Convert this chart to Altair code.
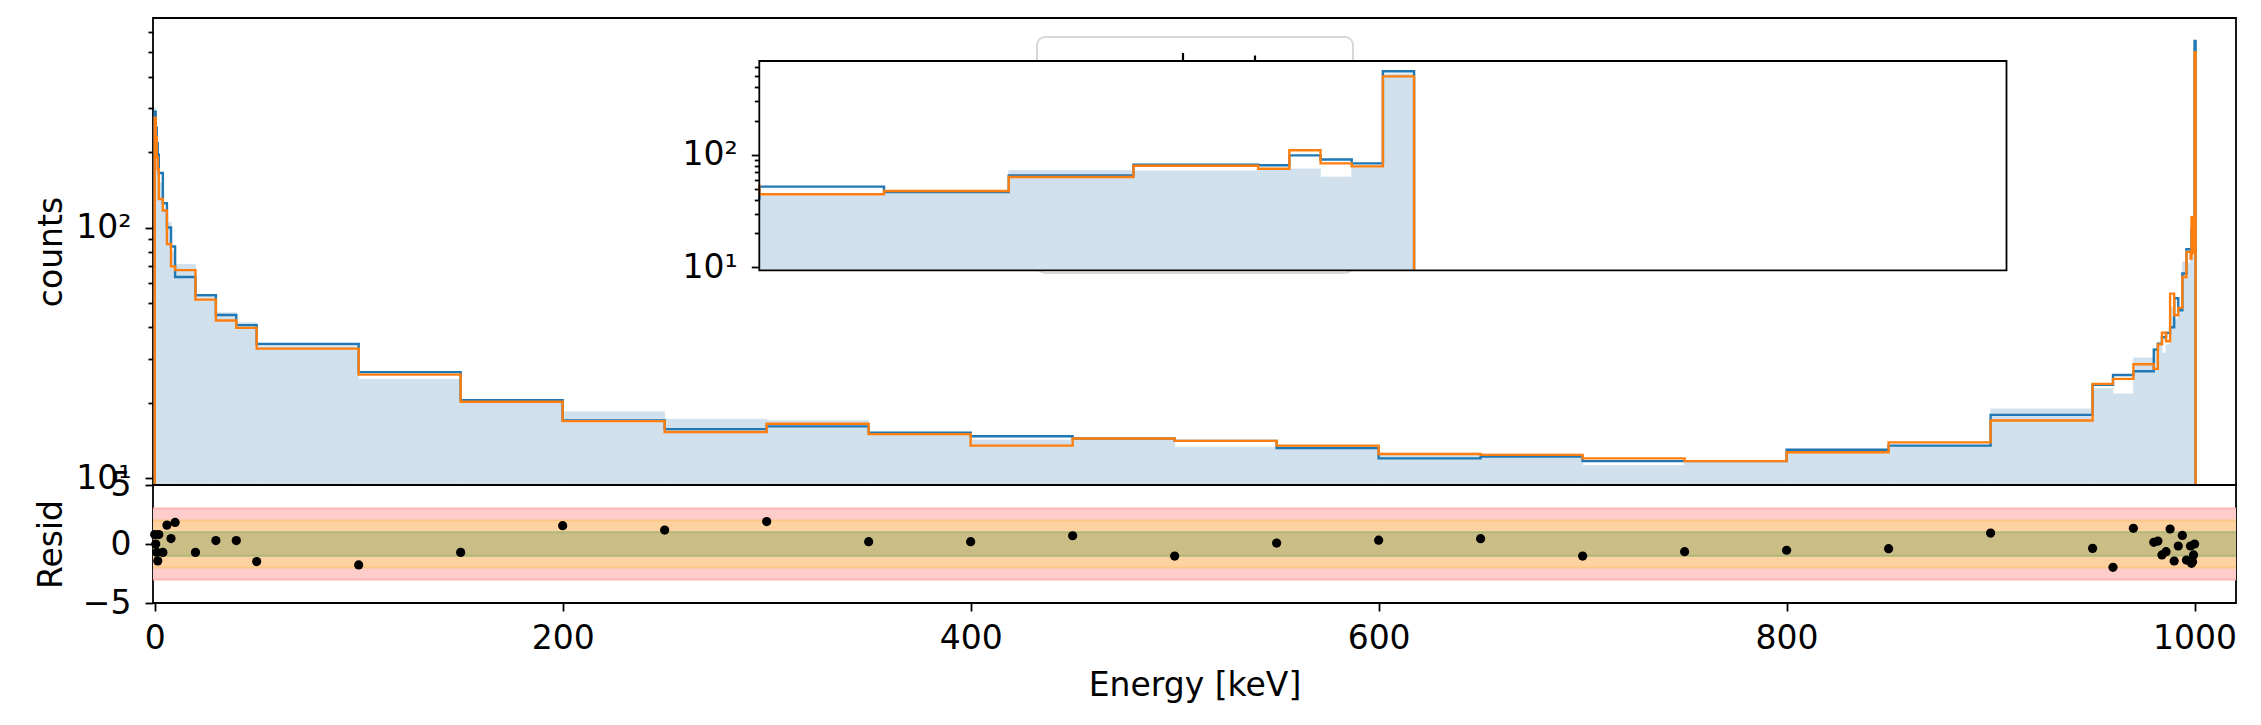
import altair as alt
import pandas as pd

# bin edges [keV] and per-bin values
EDGES = [0, 0.5, 1, 1.5, 2, 4, 6, 8, 10, 20, 30, 40, 50,
         100, 150, 200, 250, 300, 350, 400, 450, 500, 550, 600, 650, 700,
         750, 800, 850, 900, 950, 960, 970, 980, 982, 984, 986, 988, 990,
         992, 994, 996, 998, 998.5, 999, 999.5, 1000, 1000.5]
MODEL_A = [290, 250, 217, 195, 165, 125, 100, 84, 63.5, 53.7, 44.8, 40.8, 34.3,
           26.5, 20.5, 17.0, 15.7, 16.1, 15.2, 14.7, 14.4, 14.1, 13.2, 12.0, 12.2,
           11.7, 11.7, 13.0, 13.5, 17.9, 23.6, 25.8, 26.7, 32.6, 34.4, 36.5, 38.0,
           40.0, 52.2, 46.8, 65.6, 82.0, 81.0, 99.0, 91.0, 84.0, 555]
MODEL_B = [274, 230, 190, 171, 130, 117, 86, 70, 67.6, 51.6, 42.6, 39.8, 32.9,
           25.9, 20.2, 16.9, 15.3, 16.5, 15.0, 13.5, 14.4, 14.1, 13.5, 12.5, 12.4,
           12.0, 11.7, 12.7, 13.9, 17.0, 23.8, 24.9, 28.5, 27.3, 34.2, 38.1, 35.2,
           54.5, 44.7, 47.8, 63.5, 80.0, 75.2, 110, 84, 79, 500]
DATA = [300, 215, 195, 170, 151, 118, 105, 80, 71.3, 52.5, 45.7, 41.7, 33.5,
        24.8, 20.2, 18.4, 17.2, 17.0, 15.1, 14.2, 14.3, 13.3, 13.4, 12.6, 12.5,
        11.25, 11.5, 12.6, 13.4, 18.9, 22.8, 21.7, 30.2, 33.0, 34.7, 31.6, 34.1,
        48, 43.2, 46, 72.8, 72, 75, 75, 63.5, 77, 525]
RESID = [0.8, 0.0, -0.7, -1.43, 0.8, -0.71, 1.6, 0.46, 1.83, -0.71, 0.29, 0.29, -1.49,
         -1.77, -0.71, 1.55, 1.18, 1.9, 0.2, 0.2, 0.7, -1.02, 0.08, 0.32, 0.45,
         -1.02, -0.65, -0.53, -0.4, 0.93, -0.37, -1.98, 1.33, 0.14, 0.25, -0.93, -0.65,
         1.27, -1.44, -0.17, 0.73, -1.36, -0.17, -1.64, -1.5, -0.93, 0.0]

SIGMAS = [3, 2, 1]
X_TICKS = [0, 200, 400, 600, 800, 1000]
INSET_TICKS = [990.0, 992.5, 995.0, 997.5, 1000.0, 1002.5, 1005.0, 1007.5, 1010.0]
MAJOR = [10, 100]
MINOR = [20, 30, 40, 50, 60, 70, 80, 90, 200, 300, 400, 500, 600]
RES_TICKS = [-5, 0, 5]

X_DOM = [-0.83, 1020.3]
INSET_DOM = [990, 1010]
Y_DOM = [9.4, 685]
RES_DOM = [-5, 5]

# layout (pixels)
W = 2083
H_MAIN = 467
H_RES = 118
IN_L, IN_R, IN_T, IN_B = 606.3, 1853.5, 43.0, 252.3

BLUE = "#1f77b4"
ORANGE = "#ff7f0e"
FILL = "#d0e1ed"
FONT = "DejaVu Sans"
FS = 33

lo = EDGES[:-1]
hi = EDGES[1:]
bins = pd.DataFrame({"lo": lo, "hi": hi, "a": MODEL_A, "b": MODEL_B,
                     "d": DATA, "r": RESID})


def step_line(los, his, vals, start):
    pts = [(los[0], start)]
    for l, h, v in zip(los, his, vals):
        pts += [(l, v), (h, v)]
    pts.append((his[-1], Y_DOM[0]))
    return pd.DataFrame({"x": [p[0] for p in pts], "y": [p[1] for p in pts],
                         "i": list(range(len(pts)))})


def hist_bins(los, his, vals):
    return pd.DataFrame({"lo": los, "hi": his, "v": vals,
                         "base": [Y_DOM[0]] * len(los)})


one = pd.DataFrame({"k": [0]})
major_lbl = "datum.value == 10 ? '10\u00b9' : '10\u00b2'"

# ---------------- main panel ----------------
xs = alt.Scale(domain=X_DOM, nice=False, zero=False)
ys = alt.Scale(type="log", domain=Y_DOM, nice=False)

m_fill = alt.Chart(hist_bins(lo, hi, DATA)).mark_rect(
    color=FILL, stroke=FILL, strokeWidth=0.8, opacity=1).encode(
    x=alt.X("lo:Q", scale=xs, axis=None),
    x2="hi:Q",
    y=alt.Y("v:Q", scale=ys, axis=alt.Axis(
        orient="left", values=MAJOR, labelExpr=major_lbl, title="counts",
        tickSize=8, labelPadding=14, titlePadding=14, minExtent=71,
        maxExtent=71, domain=False)),
    y2="base:Q",
)
m_a = alt.Chart(step_line(lo, hi, MODEL_A, Y_DOM[0])).mark_line(
    color=BLUE, strokeWidth=2.4, strokeJoin="miter").encode(
    x=alt.X("x:Q", scale=xs, axis=None),
    y=alt.Y("y:Q", scale=ys, axis=alt.Axis(
        orient="left", values=MINOR, labels=False, title=None, tickSize=5,
        domain=False)),
    order="i:Q",
)
m_b = alt.Chart(step_line(lo, hi, MODEL_B, Y_DOM[0])).mark_line(
    color=ORANGE, strokeWidth=2.4, strokeJoin="miter").encode(
    x=alt.X("x:Q", scale=xs, axis=None),
    y=alt.Y("y:Q", scale=ys, axis=None),
    order="i:Q",
)
legend_box = alt.Chart(one).mark_rect(
    fill="white", stroke="#d8d8d8", strokeWidth=2, cornerRadius=8).encode(
    x=alt.value(884), x2=alt.value(1200), y=alt.value(19), y2=alt.value(255))
leg_t1 = alt.Chart(one).mark_rule(color="black", strokeWidth=2.2).encode(
    x=alt.value(1030), y=alt.value(35), y2=alt.value(43))
leg_t2 = alt.Chart(one).mark_rule(color="black", strokeWidth=2.2).encode(
    x=alt.value(1102), y=alt.value(37.5), y2=alt.value(43))

main_layer = alt.layer(m_fill, m_a, m_b, legend_box, leg_t1, leg_t2).resolve_axis(
    y="independent")

# ---------------- inset ----------------
sel = [i for i, v in enumerate(lo) if v >= INSET_DOM[0]]
prev = [i for i, v in enumerate(hi) if v == INSET_DOM[0]][0]
ilo = [lo[i] for i in sel]
ihi = [hi[i] for i in sel]

xi = alt.Scale(domain=INSET_DOM, range=[IN_L, IN_R], nice=False, zero=False)
yi = alt.Scale(type="log", domain=Y_DOM, range=[IN_B, IN_T], nice=False)

in_bg = alt.Chart(one).mark_rect(fill="white").encode(
    x=alt.value(IN_L), x2=alt.value(IN_R), y=alt.value(IN_T), y2=alt.value(IN_B))
in_fill = alt.Chart(hist_bins(ilo, ihi, [DATA[i] for i in sel])).mark_rect(
    color=FILL, stroke=FILL, strokeWidth=0.8, opacity=1).encode(
    x=alt.X("lo:Q", scale=xi, axis=alt.Axis(
        orient="bottom", offset=IN_B - H_MAIN, values=INSET_TICKS, format=".1f",
        tickSize=8, labelPadding=11, labelFlush=False, title=None, domain=False)),
    x2="hi:Q",
    y=alt.Y("v:Q", scale=yi, axis=alt.Axis(
        orient="left", offset=-IN_L, values=MAJOR, labelExpr=major_lbl,
        title=None, tickSize=8, labelPadding=14, domain=False)),
    y2="base:Q",
)
in_a = alt.Chart(step_line(ilo, ihi, [MODEL_A[i] for i in sel], MODEL_A[prev])).mark_line(
    color=BLUE, strokeWidth=2.4, strokeJoin="miter").encode(
    x=alt.X("x:Q", scale=xi, axis=None),
    y=alt.Y("y:Q", scale=yi, axis=alt.Axis(
        orient="left", offset=-IN_L, values=MINOR, labels=False, title=None,
        tickSize=5, domain=False)),
    order="i:Q",
)
in_b = alt.Chart(step_line(ilo, ihi, [MODEL_B[i] for i in sel], MODEL_B[prev])).mark_line(
    color=ORANGE, strokeWidth=2.4, strokeJoin="miter").encode(
    x=alt.X("x:Q", scale=xi, axis=None),
    y=alt.Y("y:Q", scale=yi, axis=None),
    order="i:Q",
)
in_frame = alt.Chart(one).mark_rect(fillOpacity=0, stroke="black", strokeWidth=1.8).encode(
    x=alt.value(IN_L), x2=alt.value(IN_R), y=alt.value(IN_T), y2=alt.value(IN_B))

inset_layer = alt.layer(in_bg, in_fill, in_a, in_b, in_frame).resolve_axis(y="independent")

main = alt.layer(main_layer, inset_layer).resolve_scale(
    x="independent", y="independent").properties(width=W, height=H_MAIN)

# ---------------- residual panel ----------------
xr = alt.Scale(domain=X_DOM, nice=False, zero=False)
yr = alt.Scale(domain=RES_DOM, nice=False, zero=False)

bands = pd.DataFrame({"k": SIGMAS, "lo": [-s for s in SIGMAS], "hi": SIGMAS})
edges = pd.DataFrame({"k": SIGMAS + SIGMAS, "v": [-s for s in SIGMAS] + SIGMAS})

band_fill = alt.Scale(domain=SIGMAS, range=["#ffcccc", "#fed1a0", "#cbbd86"])
band_edge = alt.Scale(domain=SIGMAS, range=["#fdb6b6", "#fcc784", "#adb879"])

r_band = alt.Chart(bands).mark_rect(opacity=1).encode(
    x=alt.value(0), x2=alt.value(W),
    y=alt.Y("lo:Q", scale=yr, axis=alt.Axis(
        values=RES_TICKS, title="Resid", tickSize=8, labelPadding=14,
        titlePadding=14, minExtent=71, maxExtent=71, domain=False)),
    y2="hi:Q",
    color=alt.Color("k:O", scale=band_fill, legend=None),
)
r_edge = alt.Chart(edges).mark_rule(strokeWidth=2).encode(
    x=alt.value(0), x2=alt.value(W),
    y=alt.Y("v:Q", scale=yr),
    color=alt.Color("k:O", scale=band_edge, legend=None),
)
r_pts = alt.Chart(bins).mark_circle(color="black", size=85, opacity=1).encode(
    x=alt.X("lo:Q", scale=xr, axis=alt.Axis(
        values=X_TICKS, format="d", title="Energy [keV]", tickSize=8,
        labelPadding=11, titlePadding=14, labelFlush=False, domain=False)),
    y=alt.Y("r:Q", scale=yr),
)
resid = alt.layer(r_band, r_edge, r_pts).resolve_scale(color="independent").properties(
    width=W, height=H_RES)

chart = alt.vconcat(main, resid, spacing=0, bounds="flush").properties(
    padding={"left": 26, "top": 9, "right": 10, "bottom": 10}
).configure(font=FONT).configure_view(
    stroke="black", strokeWidth=1.8
).configure_axis(
    labelFont=FONT, titleFont=FONT, labelFontSize=FS, titleFontSize=FS,
    titleFontWeight="normal", labelColor="black", titleColor="black",
    tickColor="black", tickWidth=1.8, grid=False, labelOverlap=False,
)

chart.save("out.html", embed_options={"renderer": "svg", "actions": False})
